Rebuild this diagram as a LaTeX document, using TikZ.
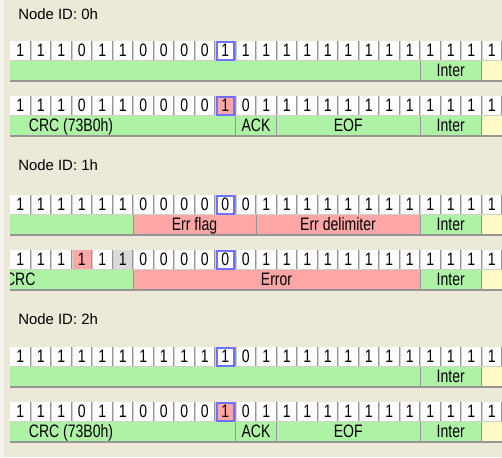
\documentclass[tikz,border=0pt]{standalone}
\usepackage{fontspec}
\setmainfont{Liberation Sans}
\newfontfamily\cellfont[FakeStretch=0.78]{Liberation Sans}

\definecolor{panel}{RGB}{236,233,216}
\definecolor{paneledge}{RGB}{244,243,238}
\definecolor{okgreen}{RGB}{174,242,166}
\definecolor{errred}{RGB}{255,166,166}
\definecolor{idleyellow}{RGB}{255,251,200}
\definecolor{stuffgray}{RGB}{218,218,218}
\definecolor{cursorblue}{RGB}{112,112,255}
\definecolor{sepgray}{RGB}{150,150,150}
\definecolor{seplight}{RGB}{212,208,200}

\tikzset{
  bitlabel/.style={inner sep=0pt, anchor=base, font=\cellfont\fontsize{13.5}{15}\selectfont},
  seglabel/.style={inner sep=0pt, anchor=base, font=\cellfont\fontsize{13.5}{15}\selectfont},
  idlabel/.style={inner sep=0pt, anchor=base west, font=\fontsize{11.2}{13}\selectfont},
  sepline/.style={draw=sepgray, line width=0.75pt},
  lightline/.style={draw=seplight, line width=0.75pt},
  cursorbox/.style={draw=cursorblue, line width=1.5pt},
}

% white strip for one row of bits
\newcommand{\bitstrip}[1]{\fill[white] (10,#1) rectangle (502,#1+19.5);}
% colour one bit cell: top, index, colour
\newcommand{\cellfill}[3]{\fill[#3] ({10+20.5*#2},#1) rectangle ({10+20.5*(#2+1)-1},#1+19);}
% digits and cell borders: name, top, bits
\newcommand{\bitrow}[3]{%
  \foreach \b [count=\i from 0] in {#3} {
    \draw[sepline] ({10+20.5*(\i+1)-0.5},#2) -- ++(0,19.5);
    \draw[lightline] ({10+20.5*(\i+1)+0.5},#2) -- ++(0,19.5);
    \node[bitlabel] (#1b\i) at ({20.25+20.5*\i},#2+16) {\b};
  }
  \draw[lightline] (10,#2+19.5) -- (502,#2+19.5);
}
% blue box round the sample point: top, index
\newcommand{\cursor}[2]{\draw[cursorbox] ({10+20.5*#2+1.5},#1+1) rectangle ({10+20.5*(#2+1)-1.5},#1+19);}
% one field of the frame bar: name, top, from, to, colour, label x, text
\newcommand{\seg}[7]{%
  \fill[#5] ({10+20.5*#3},#2+20) rectangle ({10+20.5*#4},#2+39);
  \ifnum#3>0 \draw[sepline] ({10+20.5*#3},#2+20) -- ++(0,19);\fi
  \node[seglabel] (#1) at (#6,#2+36) {#7};
}
\newcommand{\barbase}[1]{\draw[sepgray, line width=1.5pt] (10,#1+40) -- (502,#1+40);}

\begin{document}
\begin{tikzpicture}[x=0.75pt,y=-0.75pt]
\useasboundingbox (0,0) rectangle (502,457);
\fill[panel] (0,0) rectangle (502,457);
\fill[paneledge] (0,0) rectangle (4,457);

\node[idlabel] (id0) at (18,19) {Node ID: 0h};
\node[idlabel] (id1) at (18,170.5) {Node ID: 1h};
\node[idlabel] (id2) at (18,324) {Node ID: 2h};

\begin{scope}
\clip (10,0) rectangle (502,457);

% node 0h, own view
\bitstrip{40.5}
\bitrow{ra}{40.5}{1,1,1,0,1,1,0,0,0,0,1,1,1,1,1,1,1,1,1,1,1,1,1,1}
\cursor{40.5}{10}
\seg{raf}{40.5}{0}{20}{okgreen}{215}{}
\seg{rai}{40.5}{20}{23}{okgreen}{450.75}{Inter}
\seg{ray}{40.5}{23}{24}{idleyellow}{492}{}
\barbase{40.5}

% node 0h, bus view
\bitstrip{95.5}
\cellfill{95.5}{10}{errred}
\bitrow{rb}{95.5}{1,1,1,0,1,1,0,0,0,0,1,0,1,1,1,1,1,1,1,1,1,1,1,1}
\cursor{95.5}{10}
\seg{rbc}{95.5}{0}{11}{okgreen}{71}{CRC (73B0h)}
\seg{rba}{95.5}{11}{13}{okgreen}{256}{ACK}
\seg{rbe}{95.5}{13}{20}{okgreen}{348.25}{EOF}
\seg{rbi}{95.5}{20}{23}{okgreen}{450.75}{Inter}
\seg{rby}{95.5}{23}{24}{idleyellow}{492}{}
\barbase{95.5}

% node 1h, own view
\bitstrip{194.5}
\bitrow{rc}{194.5}{1,1,1,1,1,1,0,0,0,0,0,0,1,1,1,1,1,1,1,1,1,1,1,1}
\cursor{194.5}{10}
\seg{rcg}{194.5}{0}{6}{okgreen}{71.5}{}
\seg{rcf}{194.5}{6}{12}{errred}{194.5}{Err flag}
\seg{rcd}{194.5}{12}{20}{errred}{338}{Err delimiter}
\seg{rci}{194.5}{20}{23}{okgreen}{450.75}{Inter}
\seg{rcy}{194.5}{23}{24}{idleyellow}{492}{}
\barbase{194.5}

% node 1h, bus view
\bitstrip{249.5}
\cellfill{249.5}{3}{errred}
\cellfill{249.5}{5}{stuffgray}
\bitrow{rd}{249.5}{1,1,1,1,1,1,0,0,0,0,0,0,1,1,1,1,1,1,1,1,1,1,1,1}
\cursor{249.5}{10}
\seg{rdc}{249.5}{0}{6}{okgreen}{20.25}{CRC}
\seg{rde}{249.5}{6}{20}{errred}{276.5}{Error}
\seg{rdi}{249.5}{20}{23}{okgreen}{450.75}{Inter}
\seg{rdy}{249.5}{23}{24}{idleyellow}{492}{}
\barbase{249.5}

% node 2h, own view
\bitstrip{346.5}
\bitrow{re}{346.5}{1,1,1,1,1,1,1,1,1,1,1,0,1,1,1,1,1,1,1,1,1,1,1,1}
\cursor{346.5}{10}
\seg{ref}{346.5}{0}{20}{okgreen}{215}{}
\seg{rei}{346.5}{20}{23}{okgreen}{450.75}{Inter}
\seg{rey}{346.5}{23}{24}{idleyellow}{492}{}
\barbase{346.5}

% node 2h, bus view
\bitstrip{401.5}
\cellfill{401.5}{10}{errred}
\bitrow{rf}{401.5}{1,1,1,0,1,1,0,0,0,0,1,0,1,1,1,1,1,1,1,1,1,1,1,1}
\cursor{401.5}{10}
\seg{rfc}{401.5}{0}{11}{okgreen}{71}{CRC (73B0h)}
\seg{rfa}{401.5}{11}{13}{okgreen}{256}{ACK}
\seg{rfe}{401.5}{13}{20}{okgreen}{348.25}{EOF}
\seg{rfi}{401.5}{20}{23}{okgreen}{450.75}{Inter}
\seg{rfy}{401.5}{23}{24}{idleyellow}{492}{}
\barbase{401.5}
\end{scope}
\end{tikzpicture}
\end{document}
